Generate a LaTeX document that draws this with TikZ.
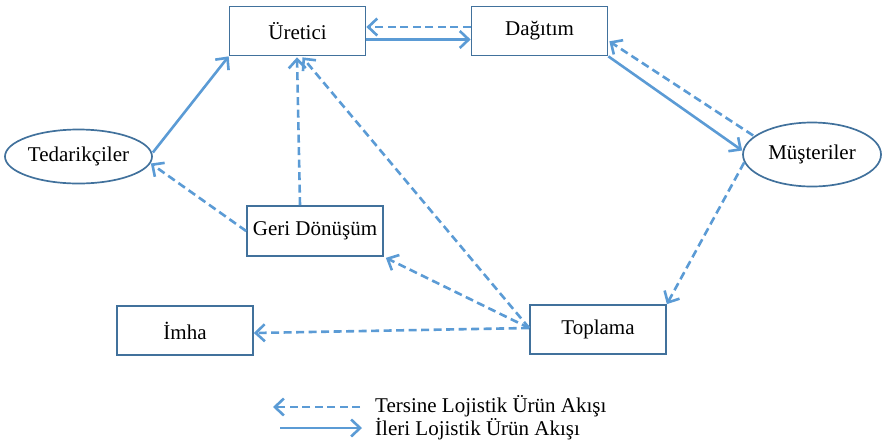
\documentclass[tikz,border=0pt]{standalone}
\usepackage{fontspec}
\setmainfont{Liberation Serif}
\usetikzlibrary{arrows.meta,shapes.geometric,calc}
\definecolor{boxblue}{HTML}{41719C}
\definecolor{flowblue}{HTML}{5B9BD5}
\begin{document}
\begin{tikzpicture}[x=1pt,y=-1pt,
  every node/.style={font=\fontsize{21}{25}\selectfont, text=black},
  stepbox/.style={draw=boxblue, line width=1.7pt, rectangle, inner sep=0pt,
    minimum width=136pt, minimum height=49pt},
  party/.style={draw=boxblue, line width=1.7pt, ellipse, inner sep=0pt},
  flow/.style={draw=flowblue, line width=2.6pt,
    -{Straight Barb[length=9pt,width=17pt,line width=2.6pt]}},
  fwd/.style={flow},
  rev/.style={flow, dash pattern=on 8pt off 4.5pt}]
\useasboundingbox (0,0) rectangle (882,440);

% nodes
\node[stepbox] (ure) at (297.5,31) {Üretici};
\node[stepbox] (dag) at (539.5,31) {Dağıtım};
\node[stepbox, minimum height=50pt] (geri) at (315,231) {Geri Dönüşüm};
\node[stepbox] (imha) at (185,330.5) {İmha};
\node[stepbox] (top) at (598,329.5) {Toplama};
\node[party, minimum width=147pt, minimum height=54pt] (ted) at (78.5,156.5) {Tedarikçiler};
\node[party, minimum width=138pt, minimum height=64pt] (mus) at (812,154.5) {Müşteriler};

% forward flows
\draw[fwd] ($(ure.east)+(0,8.5)$) -- ($(dag.west)+(0,8.5)$);
\draw[fwd] ($(ted.east)+(0,-4)$) -- (ure.south west);
\draw[fwd] (dag.south east) -- ($(mus.west)+(0,-4)$);

% reverse flows
\draw[rev] ($(dag.west)+(0,-4)$) -- ($(ure.east)+(0,-4)$);
\draw[rev] ($(mus.west)+(11,-19)$) -- ($(dag.south east)+(1,-15)$);
\draw[rev] ($(mus.west)+(2,8)$) -- (top.north east);
\draw[rev] ($(top.west)+(0,-1.5)$) -- ($(ure.south)+(5,1)$);
\draw[rev] ($(top.west)+(0,-1.5)$) -- ($(geri.south east)+(2,1)$);
\draw[rev] ($(top.west)+(0,-1.5)$) -- ($(imha.east)+(0,2.5)$);
\draw[rev] ($(geri.north)+(-15,0)$) -- ($(ure.south)+(-0.5,1)$);
\draw[rev] (geri.west) -- ($(ted.east)+(-2,7)$);

% legend
\coordinate (ra) at (360,407);
\coordinate (rb) at (273,407);
\coordinate (fa) at (280,428);
\coordinate (fb) at (362,428);
\draw[rev] (ra) -- (rb);
\draw[fwd] (fa) -- (fb);
\node[anchor=base west, inner sep=0pt] (lrev) at (375,412) {Tersine Lojistik Ürün Akışı};
\node[anchor=base west, inner sep=0pt] (lfwd) at (375,435) {İleri Lojistik Ürün Akışı};
\end{tikzpicture}
\end{document}
